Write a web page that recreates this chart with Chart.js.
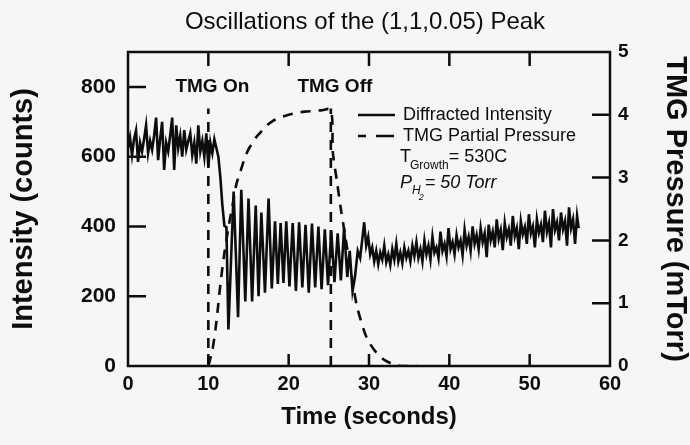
<!DOCTYPE html>
<html><head><meta charset="utf-8">
<script src="https://cdn.jsdelivr.net/npm/chart.js@4.4.0/dist/chart.umd.min.js"></script>
<style>html,body{margin:0;padding:0;background:#f6f6f6;}canvas{display:block}</style>
</head><body>
<canvas id="c" width="690" height="445"></canvas>
<script>
const chartTitle = 'Oscillations of the (1,1,0.05) Peak';
const xTitle = 'Time (seconds)';
const yTitle = 'Intensity (counts)';
const y1Title = 'TMG Pressure (mTorr)';
const seriesNames = ['Diffracted Intensity', 'TMG Partial Pressure'];
const xTicks = [0, 10, 20, 30, 40, 50, 60];
const leftTicks = [0, 200, 400, 600, 800];
const rightTicks = [0, 1, 2, 3, 4, 5];

// Diffracted intensity (counts) vs time (s)
const intensityTime = [
 0,0.25,0.5,0.75,1,1.25,1.5,1.75,2,2.25,2.5,2.75,3,3.25,3.5,3.75,4,4.25,4.5,4.75,
 5,5.25,5.5,5.75,6,6.25,6.5,6.75,7,7.25,7.5,7.75,8,8.25,8.5,8.75,9,9.25,9.5,9.75,
 10,10.25,10.5,10.75,11,11.25,
 11.5,11.75,12,12.25,12.5,
 13.15,13.7,14.1,14.6,15,15.45,15.9,16.25,16.6,17.05,17.5,17.9,18.3,18.65,19,19.35,19.7,20.1,20.5,20.9,
 21.3,21.7,22.1,22.5,22.9,23.3,23.7,24.1,24.5,24.9,25.3,25.7,26.1,26.5,26.9,27.3,27.6,27.95,28.25,28.6,
 28.9,29.15,29.4,29.65,29.9,30.15,
 30.4,30.65,30.9,31.15,31.4,31.65,31.9,32.15,32.4,32.65,32.9,33.15,33.4,33.65,33.9,34.15,34.4,34.65,34.9,35.15,
 35.4,35.65,35.9,36.15,36.4,36.65,36.9,37.15,37.4,37.65,37.9,38.15,38.4,38.65,38.9,39.15,39.4,39.65,39.9,40.15,
 40.4,40.65,40.9,41.15,41.4,41.65,41.9,42.15,42.4,42.65,42.9,43.15,43.4,43.65,43.9,44.15,44.4,44.65,44.9,45.15,
 45.4,45.65,45.9,46.15,46.4,46.65,46.9,47.15,47.4,47.65,47.9,48.15,48.4,48.65,48.9,49.15,49.4,49.65,49.9,50.15,
 50.4,50.65,50.9,51.15,51.4,51.65,51.9,52.15,52.4,52.65,52.9,53.15,53.4,53.65,53.9,54.15,54.4,54.65,54.9,55.15,
 55.4,55.65,55.9,56.1
];
const intensity = [
 625,655,605,650,675,585,640,615,650,690,610,645,620,660,712,590,650,700,562,640,
 615,660,712,562,690,625,660,600,676,620,645,667,605,640,580,690,615,645,600,667,
 570,640,610,650,625,600,
 540,460,402,398,105,
 500,140,505,185,480,185,460,200,440,210,480,222,415,235,410,238,415,228,410,215,
 412,225,405,210,408,225,400,220,392,232,388,240,380,245,395,255,330,215,255,330,
 310,360,412,345,370,320,
 340,300,330,292,325,305,345,298,320,290,335,305,350,300,325,295,340,310,330,300,
 345,315,355,310,335,300,360,320,345,305,370,325,340,310,385,330,350,315,395,335,
 355,320,375,340,360,318,390,345,370,330,400,350,375,335,395,355,380,312,405,360,
 385,340,420,365,390,332,410,370,392,345,430,372,395,335,415,378,398,350,435,380,
 400,340,420,382,405,355,445,385,410,340,450,390,412,360,440,392,415,345,455,395,
 420,350,430,395
];

// TMG partial pressure (mTorr) vs time (s)
const pressureTime = [10,10.5,11,11.5,12,12.5,13,13.5,14,14.5,15,15.5,16,16.5,17,18,19,20,21,22,23,24,25.25,
 25.5,26,26.5,27,27.5,28,28.5,29,29.5,30,31,32,33,34,36];
const pressure = [0,0.25,0.7,1.3,1.8,2.2,2.55,2.9,3.1,3.3,3.45,3.55,3.65,3.72,3.8,3.9,3.96,4.0,4.03,4.05,4.06,4.07,4.08,
 3.4,2.95,2.5,2.1,1.7,1.3,0.95,0.72,0.52,0.38,0.2,0.09,0.03,0,0];

// TMG on / off markers
const markerTimes = [10, 25.25];
const markerTop = [4.1, 4.1];
const markerLabels = ['TMG On', 'TMG Off'];

const INK = '#0d0d0d';
const FONT = '"Liberation Sans", Arial, Helvetica, sans-serif';
const DASH = [10, 8];

const datasets = [
  { label: seriesNames[0], yAxisID: 'y',
    data: intensityTime.map((t, i) => ({ x: t, y: intensity[i] })),
    borderColor: INK, borderWidth: 2.6, pointRadius: 0, tension: 0, fill: false },
  { label: seriesNames[1], yAxisID: 'y1',
    data: pressureTime.map((t, i) => ({ x: t, y: pressure[i] })),
    borderColor: INK, borderWidth: 2.6, borderDash: DASH, pointRadius: 0, tension: 0.3, fill: false },
  ...markerTimes.map((t, i) => ({ label: markerLabels[i], yAxisID: 'y1',
    data: [{ x: t, y: 0 }, { x: t, y: markerTop[i] }],
    borderColor: INK, borderWidth: 2.6, borderDash: DASH, pointRadius: 0, fill: false }))
];

const decor = {
  id: 'decor',
  afterDraw(chart) {
    const { ctx, chartArea: a, scales } = chart;
    const xs = scales.x, ys = scales.y, y1 = scales.y1;
    ctx.save();
    ctx.strokeStyle = INK; ctx.fillStyle = INK; ctx.lineWidth = 2.5; ctx.setLineDash([]);
    ctx.strokeRect(a.left, a.top, a.right - a.left, a.bottom - a.top);
    ctx.beginPath();
    xTicks.forEach(v => { if (v <= xs.min || v >= xs.max) return; const p = xs.getPixelForValue(v);
      ctx.moveTo(p, a.bottom); ctx.lineTo(p, a.bottom - 12); ctx.moveTo(p, a.top); ctx.lineTo(p, a.top + 14); });
    leftTicks.forEach(v => { if (v <= ys.min) return; const p = ys.getPixelForValue(v);
      ctx.moveTo(a.left, p); ctx.lineTo(a.left + 18, p); });
    rightTicks.forEach(v => { if (v <= y1.min || v >= y1.max) return; const p = y1.getPixelForValue(v);
      ctx.moveTo(a.right, p); ctx.lineTo(a.right - 18, p); });
    ctx.stroke();

    // chart title
    ctx.textAlign = 'center'; ctx.textBaseline = 'middle';
    ctx.font = 'normal 24px ' + FONT;
    ctx.fillText(chartTitle, (a.left + a.right) / 2 - 4, 22);

    // marker labels
    ctx.font = 'bold 19px ' + FONT;
    markerLabels.forEach((s, i) => ctx.fillText(s, xs.getPixelForValue(markerTimes[i]) + 4, 87));

    // legend
    ctx.lineWidth = 2.5;
    ctx.beginPath(); ctx.moveTo(358, 115); ctx.lineTo(395, 115); ctx.stroke();
    ctx.beginPath(); ctx.moveTo(358, 136); ctx.lineTo(366, 136); ctx.moveTo(376, 136); ctx.lineTo(394, 136); ctx.stroke();
    ctx.textAlign = 'left';
    ctx.font = 'normal 18px ' + FONT;
    ctx.fillText(seriesNames[0], 403, 115);
    ctx.fillText(seriesNames[1], 403, 136);
    // T_Growth = 530C
    let x = 400;
    ctx.fillText('T', x, 157); x += ctx.measureText('T').width - 1;
    ctx.font = 'normal 12px ' + FONT; ctx.fillText('Growth', x, 166); x += ctx.measureText('Growth').width;
    ctx.font = 'normal 18px ' + FONT; ctx.fillText('= 530C', x, 157);
    // P_H2 = 50 Torr
    x = 400;
    ctx.font = 'italic 18px ' + FONT; ctx.fillText('P', x, 183); x += ctx.measureText('P').width;
    ctx.font = 'italic 12px ' + FONT; ctx.fillText('H', x, 191); x += ctx.measureText('H').width;
    ctx.font = 'italic 9px ' + FONT; ctx.fillText('2', x - 2, 197); x += 4;
    ctx.font = 'italic 18px ' + FONT; ctx.fillText('= 50 Torr', x, 183);
    ctx.restore();
  }
};

new Chart(document.getElementById('c'), {
  type: 'line',
  data: { datasets },
  options: {
    responsive: false, animation: false, devicePixelRatio: 1,
    layout: { padding: { top: 52, left: 0, right: 0, bottom: 0 } },
    plugins: { legend: { display: false }, title: { display: false }, tooltip: { enabled: false } },
    scales: {
      x: { type: 'linear', position: 'bottom', min: 0, max: 60,
        afterBuildTicks: s => { s.ticks = xTicks.map(v => ({ value: v })); },
        afterFit: s => { s.height = 79; },
        grid: { display: false, drawTicks: false }, border: { display: false },
        ticks: { color: INK, padding: 6, maxRotation: 0, autoSkip: false, font: { family: FONT, size: 20, weight: 'bold' } },
        title: { display: true, text: xTitle, color: INK, padding: { top: 0, bottom: 16 },
          font: { family: FONT, size: 24, weight: 'bold', lineHeight: 1 } } },
      y: { type: 'linear', position: 'left', min: 0, max: 900,
        afterBuildTicks: s => { s.ticks = leftTicks.map(v => ({ value: v })); },
        afterFit: s => { s.width = 128; },
        grid: { display: false, drawTicks: false }, border: { display: false },
        ticks: { color: INK, padding: 12, font: { family: FONT, size: 21, weight: 'bold' } },
        title: { display: true, text: yTitle, color: INK, padding: { top: 9, bottom: 0 },
          font: { family: FONT, size: 29, weight: 'bold', lineHeight: 1 } } },
      y1: { type: 'linear', position: 'right', min: 0, max: 5,
        afterBuildTicks: s => { s.ticks = rightTicks.map(v => ({ value: v })); },
        afterFit: s => { s.width = 80; },
        grid: { display: false, drawTicks: false }, border: { display: false },
        ticks: { color: INK, padding: 8, font: { family: FONT, size: 19, weight: 'bold' } },
        title: { display: true, text: y1Title, color: INK, padding: { top: 1, bottom: 0 },
          font: { family: FONT, size: 29, weight: 'bold', lineHeight: 1 } } }
    }
  },
  plugins: [decor]
});
</script>
</body></html>
